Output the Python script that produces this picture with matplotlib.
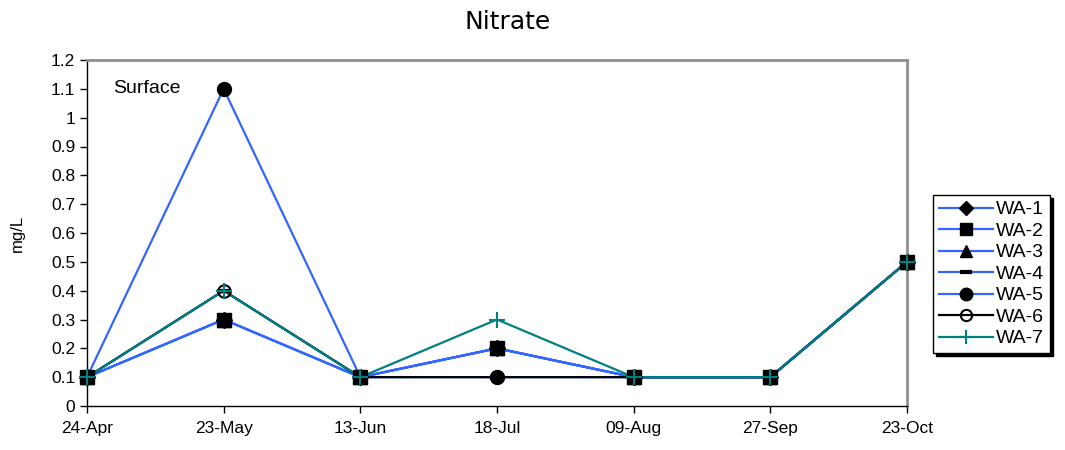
import numpy as np
import matplotlib.pyplot as plt
from matplotlib.lines import Line2D

plt.rcParams['font.family'] = ['Liberation Sans', 'DejaVu Sans']

fechas = ['24-Apr', '23-May', '13-Jun', '18-Jul', '09-Aug', '27-Sep', '23-Oct']
wa1 = [0.1, 0.3, 0.1, 0.2, 0.1, 0.1, 0.5]
wa2 = [0.1, 0.3, 0.1, 0.2, 0.1, 0.1, 0.5]
wa3 = [0.1, 0.3, 0.1, 0.2, 0.1, 0.1, 0.5]
wa4 = [0.1, 0.4, 0.1, 0.2, 0.1, 0.1, 0.5]
wa5 = [0.1, 1.1, 0.1, 0.1, 0.1, 0.1, 0.5]
wa6 = [0.1, 0.4, 0.1, 0.1, 0.1, 0.1, 0.5]
wa7 = [0.1, 0.4, 0.1, 0.3, 0.1, 0.1, 0.5]

azul = '#3366ff'
teal = '#008080'

series = [
    ('WA-1', wa1, azul, dict(marker='D', mfc='black', mec='black', ms=8)),
    ('WA-2', wa2, azul, dict(marker='s', mfc='black', mec='black', ms=10)),
    ('WA-3', wa3, azul, dict(marker='^', mfc='black', mec='black', ms=10)),
    ('WA-4', wa4, azul, dict(marker='_', mfc='black', mec='black', ms=10, mew=3)),
    ('WA-5', wa5, azul, dict(marker='o', mfc='black', mec='black', ms=10)),
    ('WA-6', wa6, 'black', dict(marker='o', mfc='none', mec='black', ms=9, mew=1.5)),
    ('WA-7', wa7, teal, dict(marker='+', mfc=teal, mec=teal, ms=11, mew=1.5)),
]

fig = plt.figure(figsize=(10.65, 4.5), dpi=100)
ax = fig.add_axes([87/1065, 1 - 406/450, 820/1065, 346/450])

x = np.arange(len(fechas))
handles = []
# primero todas las líneas, luego los marcadores encima
for nombre, valores, color, estilo in series:
    ax.plot(x, valores, color=color, lw=1.6, zorder=2, clip_on=False)
for nombre, valores, color, estilo in series:
    ax.plot(x, valores, ls='none', zorder=3, clip_on=False, **estilo)
    handles.append(Line2D([], [], color=color, lw=1.6, label=nombre, **estilo))

ax.set_xlim(0, len(fechas) - 1)
ax.set_ylim(0, 1.2)
ax.set_xticks(x)
ax.set_xticklabels(fechas)
ax.set_yticks(np.round(np.arange(0, 1.21, 0.1), 1))
ax.set_yticklabels(['0', '0.1', '0.2', '0.3', '0.4', '0.5', '0.6', '0.7', '0.8',
                    '0.9', '1', '1.1', '1.2'])
ax.tick_params(direction='out', length=5, labelsize=12.5, width=1)
ax.tick_params(axis='x', pad=6)
for lado in ['top', 'right']:
    ax.spines[lado].set_color('#909090')
    ax.spines[lado].set_linewidth(2)
for lado in ['left', 'bottom']:
    ax.spines[lado].set_color('black')
    ax.spines[lado].set_linewidth(1)

ax.set_ylabel('mg/L', fontsize=12)
ax.yaxis.set_label_coords(-0.0756, 0.5)
fig.text(508/1065, 1 - 22/450, 'Nitrate', ha='center', va='center', fontsize=18,
         family='DejaVu Sans')
ax.text(0.19, 1.1, 'Surface', fontsize=14, va='center')

leg = ax.legend(handles=handles, loc='upper left',
                bbox_to_anchor=((933 - 87)/820, (406 - 195)/346),
                frameon=True, fancybox=False, shadow={'color': 'black', 'alpha': 1},
                fontsize=14, markerscale=0.9, handlelength=2.8, handletextpad=0.15,
                labelspacing=0.2, borderpad=0.3, borderaxespad=0)
leg.get_frame().set_edgecolor('black')
leg.get_frame().set_linewidth(1)

plt.savefig('out.png', dpi=100)
plt.close()
